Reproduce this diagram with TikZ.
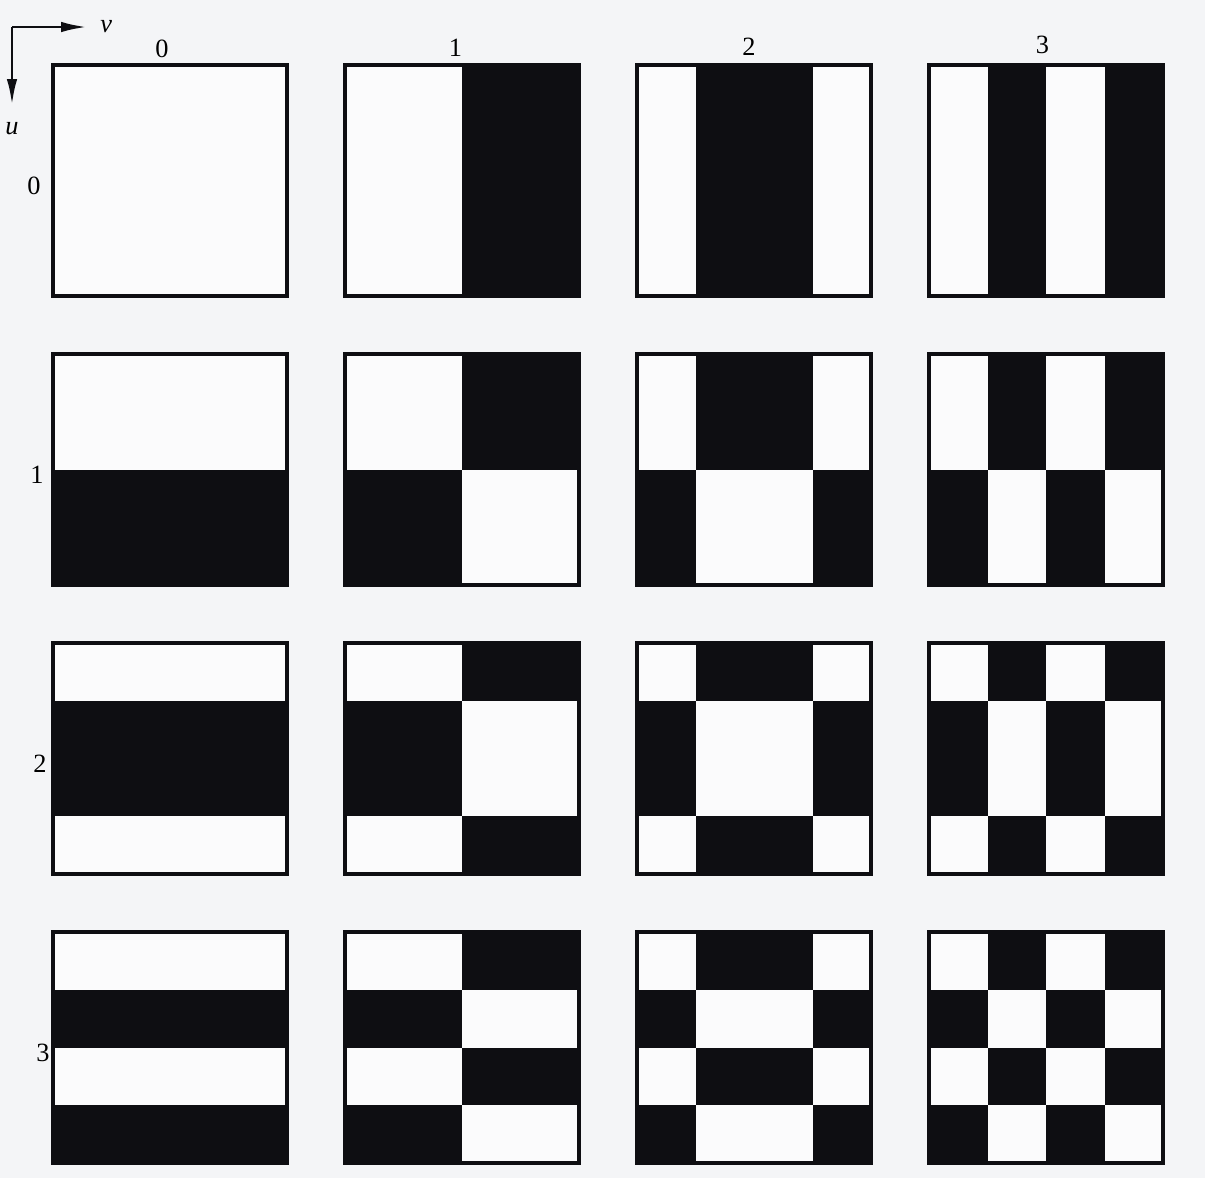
\documentclass[tikz,border=0pt]{standalone}
\usepackage{fontspec}
\setmainfont{Liberation Serif}
\usetikzlibrary{arrows.meta, positioning}
\definecolor{carta}{RGB}{244,245,247}
\definecolor{bianco}{RGB}{251,251,252}
\definecolor{nero}{RGB}{14,14,18}
\tikzset{
  quadro/.style={draw=nero, line width=1.8pt},
  asse/.style={draw=nero, line width=1.6pt, -{Latex[length=0.52cm,width=0.21cm]}},
  etich/.style={font=\fontsize{15}{17}\selectfont, inner sep=0pt},
}

\begin{document}
\begin{tikzpicture}[x=0.02cm, y=-0.02cm]
    \useasboundingbox[fill=carta] (0,0) rectangle (1205,1178);
    % assi
    \coordinate (o) at (12,27);
    \coordinate (vtip) at (87,27);
    \coordinate (utip) at (12,105);
    \draw[asse] (o) -- (vtip);
    \draw[asse] (o) -- (utip);
    \node[etich, right=0.26cm of vtip] (vlab) {\textit{v}};
    \node[etich, below=0.34cm of utip] (ulab) {\textit{u}};
    % quadrati
    \foreach \u in {0,...,3}
      \foreach \v in {0,...,3} {
        \fill[bianco] (53+292*\v,65+289*\u) rectangle ++(234,231);
        \foreach \i in {0,...,3}
          \foreach \j in {0,...,3} {
            \pgfmathsetmacro\segno{cos((2*\i+1)*\u*22.5)*cos((2*\j+1)*\v*22.5)}
            \ifdim \segno pt<0pt
              \fill[nero] (53+292*\v+58.5*\j,65+289*\u+57.75*\i) rectangle ++(58.5,57.75);
            \fi
          }
        \draw[quadro] (53+292*\v,65+289*\u) rectangle ++(234,231);
      }
    % etichette
    \foreach \k in {0,...,3} {
      \node[etich] (col\k) at (162+293.5*\k,49-1.3*\k) {\k};
      \node[etich] (rig\k) at (34+3*\k,186+289*\k) {\k};
    }
\end{tikzpicture}
\end{document}
